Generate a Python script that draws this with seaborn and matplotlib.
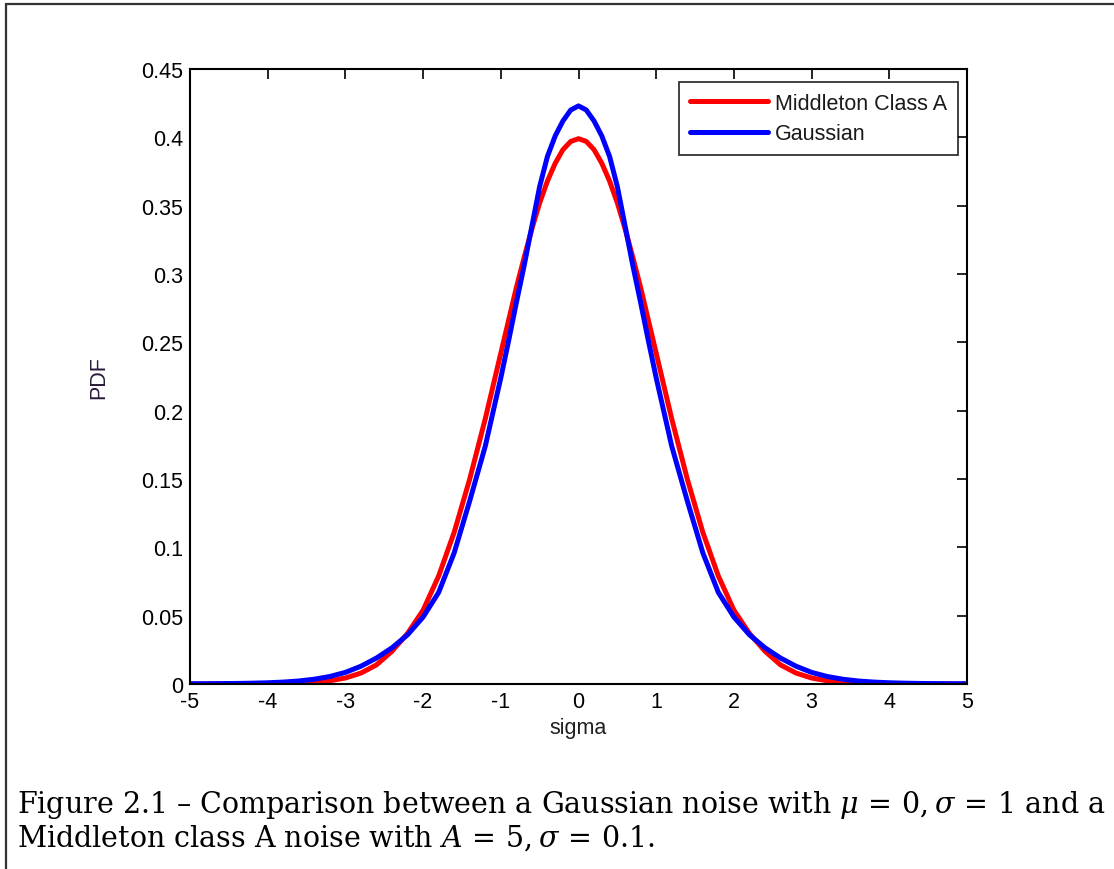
import numpy as np
import pandas as pd
import matplotlib
matplotlib.use("Agg")
import matplotlib.pyplot as plt
from matplotlib.lines import Line2D
import seaborn as sns

# ---- data ----
sigma_pos = [0.0, 0.1, 0.2, 0.3, 0.4, 0.5, 0.6, 0.7, 0.8, 0.9, 1.0, 1.2, 1.4,
             1.6, 1.8, 2.0, 2.2, 2.4, 2.6, 2.8, 3.0, 3.2, 3.4, 3.6, 3.8, 4.0,
             4.2, 4.4, 4.6, 4.8, 5.0]
middleton_pos = [0.399, 0.397, 0.391, 0.381, 0.368, 0.352, 0.333, 0.312, 0.290,
                 0.266, 0.242, 0.194, 0.150, 0.111, 0.079, 0.054, 0.037, 0.024,
                 0.014, 0.008, 0.0044, 0.0024, 0.0012, 0.0006, 0.0002, 0.0,
                 0.0, 0.0, 0.0, 0.0, 0.0]
gaussian_pos = [0.423, 0.420, 0.412, 0.401, 0.386, 0.364, 0.335, 0.306, 0.279,
                0.251, 0.224, 0.174, 0.134, 0.096, 0.067, 0.049, 0.036, 0.0265,
                0.019, 0.013, 0.0085, 0.0055, 0.0035, 0.0022, 0.0014, 0.0009,
                0.0006, 0.0004, 0.0003, 0.0002, 0.0002]
series_names = ["Middleton Class A", "Gaussian"]
series_colors = ["#ff0000", "#0000ff"]
x_ticks = [-5, -4, -3, -2, -1, 0, 1, 2, 3, 4, 5]
y_ticks = [0, 0.05, 0.1, 0.15, 0.2, 0.25, 0.3, 0.35, 0.4, 0.45]
x_label = "sigma"
y_label = "PDF"
caption_1 = r"Figure 2.1 – Comparison between a Gaussian noise with $\mu\,=\,0,\sigma\,=\,1$ and a"
caption_2 = r"Middleton class A noise with $A\,=\,5,\sigma\,=\,0.1$."

# mirror the symmetric halves into full curves
sig = [-s for s in sigma_pos[:0:-1]] + sigma_pos
mid = middleton_pos[:0:-1] + middleton_pos
gau = gaussian_pos[:0:-1] + gaussian_pos
df = pd.DataFrame({
    "sigma": sig * 2,
    "PDF": mid + gau,
    "series": [series_names[0]] * len(sig) + [series_names[1]] * len(sig),
})

sns.set_style("white")
plt.rcParams["font.family"] = ["Liberation Sans", "DejaVu Sans"]
plt.rcParams["axes.unicode_minus"] = False
plt.rcParams["mathtext.fontset"] = "dejavuserif"
plt.rcParams["text.color"] = "black"
plt.rcParams["axes.labelcolor"] = "black"

W, H = 1114, 870
fig = plt.figure(figsize=(W / 100, H / 100), dpi=100)
fig.patch.set_facecolor("white")
ax = fig.add_axes([190 / W, 1 - 685 / H, (967 - 190) / W, (685 - 70) / H])

sns.lineplot(data=df, x="sigma", y="PDF", hue="series", hue_order=series_names,
             palette=series_colors, linewidth=3.6, ax=ax, legend=False,
             sort=False, estimator=None)

ax.set_xlim(-5, 5)
ax.set_ylim(0, 0.45)
ax.set_xticks(x_ticks)
ax.set_xticklabels([str(t) for t in x_ticks])
ax.set_yticks(y_ticks)
ax.set_yticklabels(["%g" % t for t in y_ticks])
ax.tick_params(direction="in", length=7, width=1.2, top=True, right=True,
               labelsize=15.5, colors="black", pad=5)
for s in ax.spines.values():
    s.set_visible(True)
    s.set_color("black")
    s.set_linewidth(1.5)
ax.set_xlabel(x_label, fontsize=15.5, labelpad=4, color="#202020")
ax.set_ylabel(y_label, fontsize=15.5, labelpad=23, color="#2a1a3a")

handles = [Line2D([], [], color=c, linewidth=3.6) for c in series_colors]
leg = ax.legend(handles, series_names, loc="upper right",
                bbox_to_anchor=(958 / W, 1 - 83 / H), bbox_transform=fig.transFigure,
                fontsize=15.5, frameon=True, fancybox=False, edgecolor="black",
                handlelength=3.6, handletextpad=0.35, borderpad=0.5,
                labelspacing=0.45, borderaxespad=0, handleheight=0.8)
leg.get_frame().set_linewidth(1.3)
for t in leg.get_texts():
    t.set_color("#1a1a1a")

# outer page frame lines (top and left)
fig.add_artist(Line2D([6 / W, 1], [1 - 5 / H, 1 - 5 / H], transform=fig.transFigure,
                      color="#333333", linewidth=1.6))
fig.add_artist(Line2D([6 / W, 6 / W], [0, 1 - 5 / H], transform=fig.transFigure,
                      color="#333333", linewidth=1.6))

t1 = fig.text(17 / W, 1 - 805 / H, caption_1, family="DejaVu Serif",
              fontsize=18, va="center", ha="left", color="black")
t2 = fig.text(17 / W, 1 - 838 / H, caption_2, family="DejaVu Serif",
              fontsize=18, va="center", ha="left", color="black")
fig.canvas.draw()
r = fig.canvas.get_renderer()
w = t1.get_window_extent(r).width
fs = 18 * (1108 - 17) / w
t1.set_fontsize(fs)
t2.set_fontsize(fs)

fig.savefig("out.png", dpi=100)
